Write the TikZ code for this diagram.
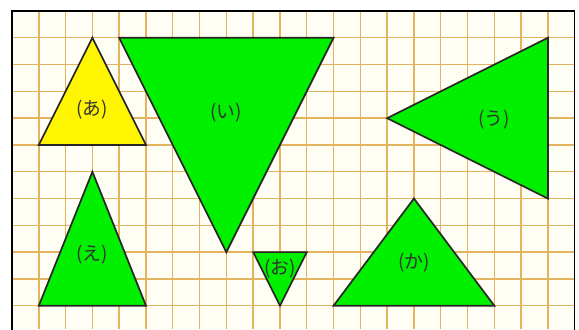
\documentclass[tikz,border=0pt]{standalone}
\usepackage{fontspec}
\newfontfamily\jpfont{Noto Sans CJK JP}
\usetikzlibrary{positioning}
\definecolor{gridline}{HTML}{E3B360}
\definecolor{paper}{HTML}{FFFEF4}
\definecolor{shapegreen}{HTML}{00F000}
\definecolor{shapeyellow}{HTML}{FFF500}

\begin{document}
\begin{tikzpicture}[x=1cm, y=-1cm,
  tri/.style={draw=black!85, line width=1.8pt, fill=shapegreen, line join=miter},
  tag/.style={font=\jpfont\fontsize{20}{20}\selectfont, text=black!80, inner sep=0pt}]
\useasboundingbox (-0.448,-0.41) rectangle (21.16,11.87);
\fill[white] (-0.448,-0.41) rectangle (21.16,11.87);
\fill[paper] (0,0) rectangle (21,11.87);
% grid
\foreach \i in {1,...,20}
  \draw[gridline, line width=1.5pt] (\i,0) -- (\i,11.87);
\foreach \j in {1,...,11}
  \draw[gridline, line width=1.5pt] (0,\j) -- (21,\j);
\draw[line width=1.6pt] (0,12) -- (0,0) -- (21,0) -- (21,12);
% triangles
\draw[tri, fill=shapeyellow] (3,1) -- (5,5) -- (1,5) -- cycle;
\draw[tri] (4,1) -- (12,1) -- (8,9) -- cycle;
\draw[tri] (14,4) -- (20,1) -- (20,7) -- cycle;
\draw[tri] (3,6) -- (5,11) -- (1,11) -- cycle;
\draw[tri] (9,9) -- (11,9) -- (10,11) -- cycle;
\draw[tri] (15,7) -- (18,11) -- (12,11) -- cycle;
% labels
\node[tag] (lblA) at (3,3.7) {(あ)};
\node[tag] (lblI) at (8,3.8) {(い)};
\node[tag] (lblU) at (18,4.05) {(う)};
\node[tag] (lblE) at (3,9.1) {(え)};
\node[tag] (lblO) at (10,9.6) {(お)};
\node[tag] (lblKa) at (15,9.4) {(か)};
\end{tikzpicture}
\end{document}
